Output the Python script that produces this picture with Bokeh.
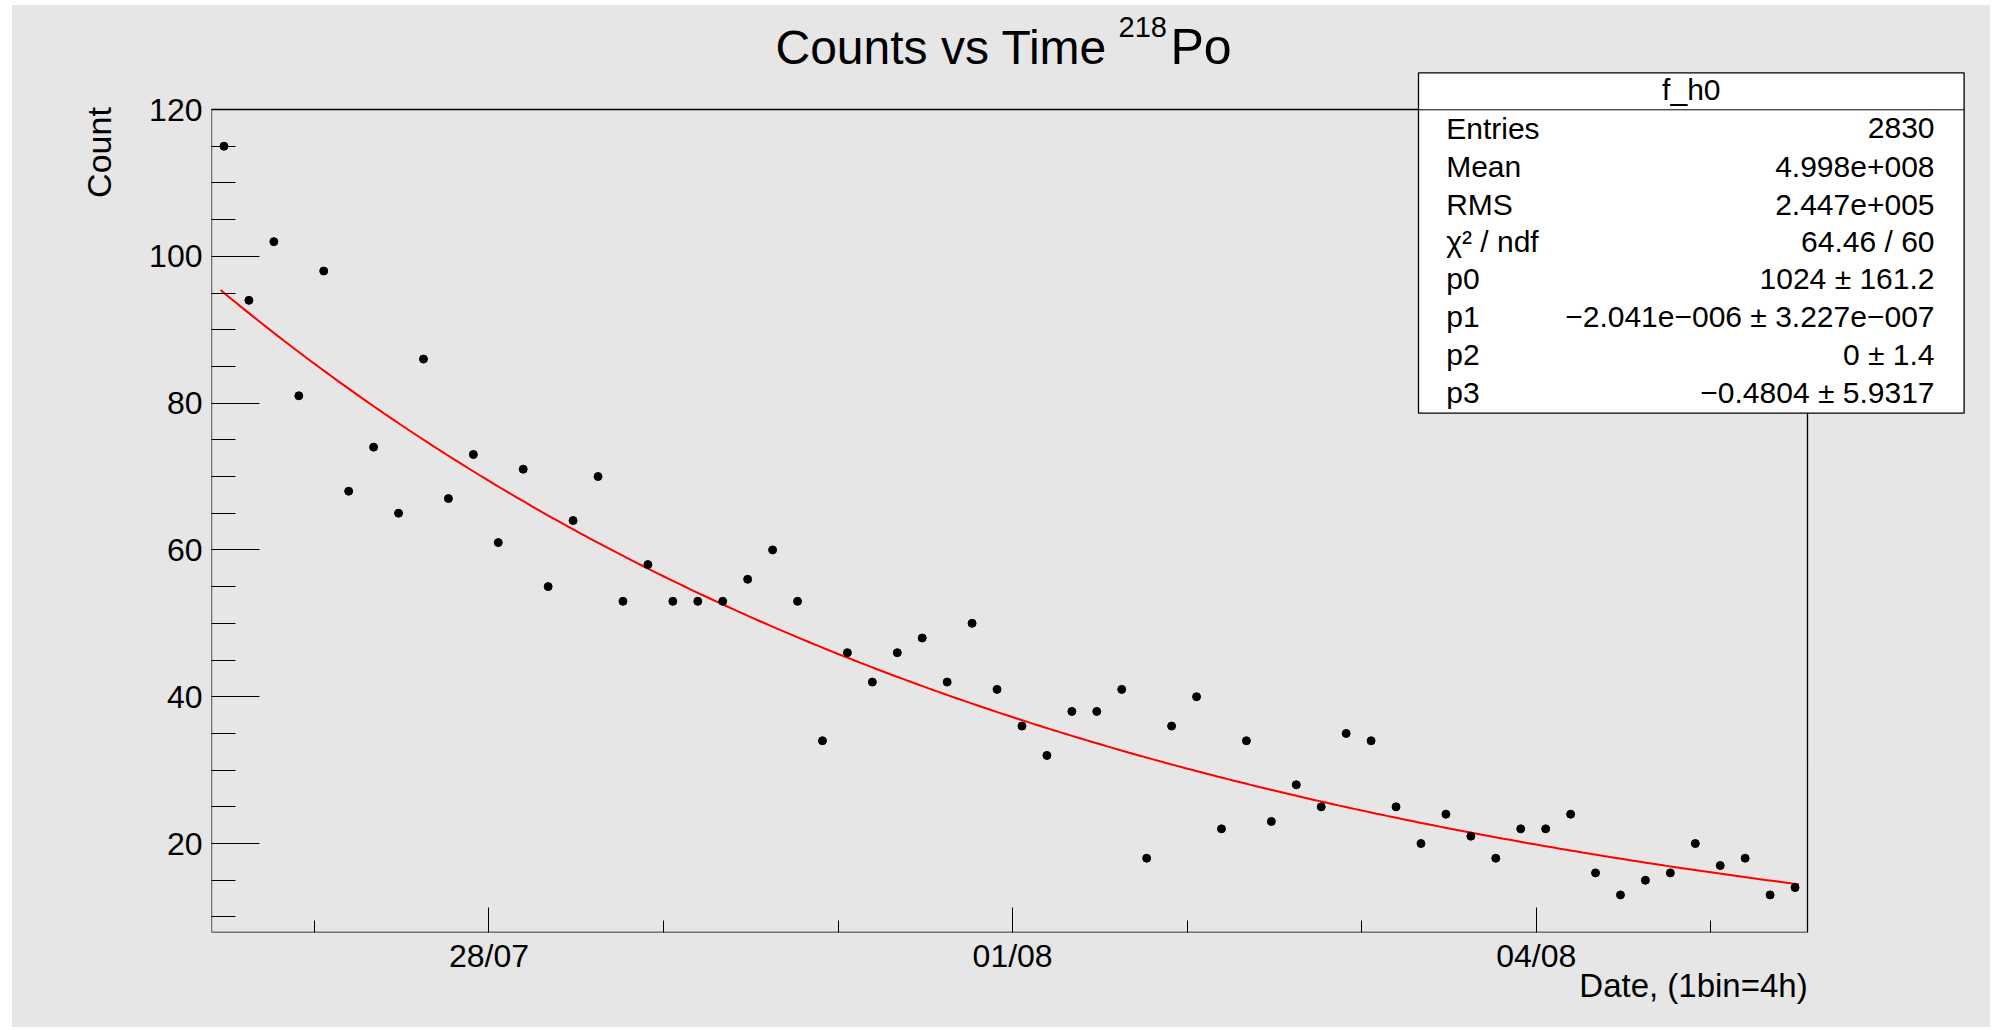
import numpy as np
from bokeh.plotting import figure
from bokeh.models import Range1d, FixedTicker, Label, BoxAnnotation, Arrow, LinearAxis
from bokeh.embed import file_html
from bokeh.resources import INLINE

# ---------------- data ----------------
BIN_HOURS = 4
counts = [115, 94, 102, 81, 98, 68, 74, 65, 86, 67,
          73, 61, 71, 55, 64, 70, 53, 58, 53, 53,
          53, 56, 60, 53, 34, 46, 42, 46, 48, 42,
          50, 41, 36, 32, 38, 38, 41, 18, 36, 40,
          22, 34, 23, 28, 25, 35, 34, 25, 20, 24,
          21, 18, 22, 22, 24, 16, 13, 15, 16, 20,
          17, 18, 13, 14]
bin_centers_h = [BIN_HOURS * (i + 0.5) for i in range(len(counts))]

# date axis (hours since the first bin edge)
date_tick_hours = [44.5, 128.5, 212.5]
date_tick_labels = ["28/07", "01/08", "04/08"]
date_minor_hours = [16.5, 72.5, 100.5, 156.5, 184.5, 240.5]

count_ticks = [20, 40, 60, 80, 100, 120]
count_minor_ticks = [10, 15, 25, 30, 35, 45, 50, 55, 65, 70, 75, 85, 90, 95, 105, 110, 115]

# fit (exponential decay), parameters from the stats box
P1_PER_S = -2.041e-6
P3 = -0.4804
FIT_T0_H = 1.46
FIT_T1_H = 254.6
FIT_Y0 = 95.4

stats_title = "f_h0"
stats_names = ["Entries", "Mean", "RMS", "\u03c7\u00b2 / ndf", "p0", "p1", "p2", "p3"]
stats_values = ["2830", "4.998e+008", "2.447e+005", "64.46 / 60",
                "1024 \u00b1 161.2", "\u22122.041e\u2212006 \u00b1 3.227e\u2212007",
                "0 \u00b1 1.4", "\u22120.4804 \u00b1 5.9317"]

# ---------------- layout ----------------
BG = "#e6e6e6"
FONT = "Liberation Sans"
X0, XD1 = 0, BIN_HOURS * len(counts)      # data area in x (hours)
Y0, YD1 = 7.88, 120                       # data area in y (counts)

OX, OY = 12, 5                            # page offset of the canvas
W, H = 1978, 1022
PL, PR, PT, PB = 211, 1807, 109, 932      # page pixels of the data frame
ML, MB = PL - OX, (OY + H) - PB
PX_H = (PR - PL) / (XD1 - X0)
PX_Y = (PB - PT) / (YD1 - Y0)
X1 = X0 + (OX + W - PL) / PX_H            # plot frame extends to the right edge
Y1 = YD1 + (PT - OY) / PX_Y               # ... and to the top edge
BASE_SHIFT = 0.375                        # baseline correction (em)

def dx(px):  # page pixel -> data x
    return X0 + (px - PL) / PX_H

def dy(py):  # page pixel -> data y
    return YD1 - (py - PT) / PX_Y

p = figure(width=W, height=H, output_backend="svg", toolbar_location=None,
           x_range=Range1d(X0, X1), y_range=Range1d(Y0, Y1),
           min_border_left=ML, min_border_right=0, min_border_top=0, min_border_bottom=MB)
p.margin = (OY, 0, 0, OX)
p.styles = {"background-color": BG}
p.background_fill_color = None
p.border_fill_color = None
p.outline_line_color = None
p.xgrid.visible = False
p.ygrid.visible = False

xa = p.xaxis[0]
xa.bounds = (X0, XD1)
xa.ticker = FixedTicker(ticks=date_tick_hours, minor_ticks=date_minor_hours)
xa.major_label_overrides = {t: l for t, l in zip(date_tick_hours, date_tick_labels)}
xa.major_tick_in, xa.major_tick_out = 25, 0
xa.minor_tick_in, xa.minor_tick_out = 12, 0
xa.major_label_text_font = FONT
xa.major_label_text_font_size = "32px"
xa.major_label_text_color = "black"
xa.major_label_standoff = 5
xa.axis_line_color = None
xa.major_tick_line_color = "black"
xa.minor_tick_line_color = "black"

ya = p.yaxis[0]
ya.bounds = (Y0, YD1)
ya.ticker = FixedTicker(ticks=count_ticks, minor_ticks=count_minor_ticks)
ya.major_tick_in, ya.major_tick_out = 48, 0
ya.minor_tick_in, ya.minor_tick_out = 24, 0
ya.major_label_text_font = FONT
ya.major_label_text_font_size = "32px"
ya.major_label_text_color = "black"
ya.major_label_standoff = 9
ya.axis_line_color = None
ya.major_tick_line_color = "black"
ya.minor_tick_line_color = "black"

# axis titles, as single-label axes stacked outside the tick-label axes
yc = dy(107 + 45)
ytitle = LinearAxis(ticker=FixedTicker(ticks=[yc], minor_ticks=[]),
                    major_label_overrides={yc: "Count"},
                    major_label_orientation="vertical",
                    major_label_text_font=FONT, major_label_text_font_size="34px",
                    major_label_text_color="black", major_label_standoff=23,
                    axis_line_color=None, major_tick_line_color=None,
                    minor_tick_line_color=None)
p.add_layout(ytitle, "left")

xc = dx(1807 - 114)
xtitle = LinearAxis(ticker=FixedTicker(ticks=[xc], minor_ticks=[]),
                    major_label_overrides={xc: "Date, (1bin=4h)"},
                    major_label_text_font=FONT, major_label_text_font_size="33px",
                    major_label_text_color="black", major_label_standoff=-16,
                    axis_line_color=None, major_tick_line_color=None,
                    minor_tick_line_color=None)
p.add_layout(xtitle, "below")

# ROOT frame outline
p.add_layout(BoxAnnotation(left=X0, right=XD1, bottom=Y0, top=YD1,
                           fill_alpha=0, line_color="black", line_alpha=1.0,
                           line_width=1.3, level="underlay"))

# fit curve
t_fit = np.linspace(FIT_T0_H, FIT_T1_H, 300)
y_fit = (FIT_Y0 - P3) * np.exp(P1_PER_S * 3600 * (t_fit - FIT_T0_H)) + P3
p.line(t_fit, y_fit, line_color="#ff0000", line_width=2)

# data points
p.scatter(bin_centers_h, counts, size=8, color="black")

def label(px, py, text, size, align="left", level="annotation"):
    p.add_layout(Label(x=dx(px), y=dy(py - BASE_SHIFT * size), text=text,
                       text_align=align, text_baseline="alphabetic",
                       text_font=FONT, text_font_size=f"{size}px", text_color="black",
                       level=level))

# title
label(775, 65, "Counts vs Time", 48)
label(1118, 37.5, "218", 29)
label(1170, 65, "Po", 50)

# stats box
p.add_layout(BoxAnnotation(left=dx(1418), right=dx(1963.6), top=dy(72.3), bottom=dy(412.7),
                           fill_color="white", fill_alpha=1.0, line_color="black",
                           line_width=1.3, line_alpha=1.0, level="overlay"))
p.add_layout(Arrow(x_start=dx(1418), y_start=dy(109.3), x_end=dx(1963.6), y_end=dy(109.3),
                   end=None, line_color="black", line_width=1, level="overlay"))
label(1690.8, 100, stats_title, 30, align="center", level="overlay")
row_base = [139, 177.3, 215.3, 252.3, 289.3, 327.3, 365.3, 403]
for name, val, by in zip(stats_names, stats_values, row_base):
    label(1445.7, by, name, 30, level="overlay")
    label(1934, by, val, 30, align="right", level="overlay")

open("out.html", "w").write(file_html(p, INLINE))
